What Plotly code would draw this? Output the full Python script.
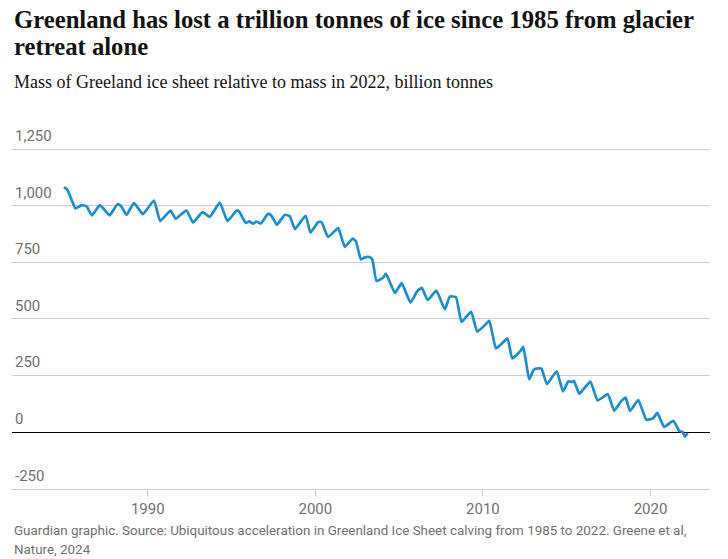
import plotly.graph_objects as go

# Decimal years (peaks and troughs of the seasonal cycle)
years = [
    1985.0, 1985.2, 1985.45, 1985.68, 1985.88, 1986.04, 1986.34, 1986.67,
    1987.13, 1987.33, 1987.73, 1988.19, 1988.40, 1988.73, 1989.18, 1989.71,
    1990.37, 1990.74, 1991.36, 1991.67, 1992.31, 1992.70, 1993.27, 1993.70,
    1994.30, 1994.76, 1995.30, 1995.45, 1995.85, 1996.05, 1996.29, 1996.49,
    1996.75, 1997.18, 1997.38, 1997.71, 1998.18, 1998.48, 1998.78, 1999.42,
    1999.71, 2000.17, 2000.37, 2000.76, 2001.36, 2001.76, 2002.22, 2002.42,
    2002.72, 2002.96, 2003.25, 2003.40, 2003.65, 2004.04, 2004.21, 2004.75,
    2005.15, 2005.68, 2006.08, 2006.35, 2006.70, 2007.22, 2007.73, 2008.02,
    2008.39, 2008.72, 2009.03, 2009.30, 2009.66, 2010.12, 2010.38, 2010.78,
    2011.18, 2011.47, 2011.75, 2012.25, 2012.41, 2012.76, 2013.04, 2013.30,
    2013.50, 2013.82, 2014.40, 2014.78, 2015.09, 2015.35, 2015.43, 2015.75,
    2016.41, 2016.84, 2017.45, 2017.83, 2018.22, 2018.51, 2018.78, 2019.27,
    2019.75, 2020.15, 2020.41, 2020.81, 2021.36, 2021.72, 2021.92, 2022.06, 2022.21,
]

# Mass relative to 2022, billion tonnes
mass = [
    1082, 1071, 1027, 988, 995, 1003, 998, 958,
    1003, 990, 958, 1007, 1000, 960, 1012, 963,
    1023, 933, 979, 943, 980, 926, 972, 951,
    1014, 932, 979, 975, 924, 931, 921, 930,
    922, 965, 956, 916, 960, 954, 897, 956,
    882, 928, 928, 862, 901, 818, 855, 843,
    763, 772, 773, 764, 668, 682, 700, 615,
    658, 572, 623, 638, 583, 625, 543, 599,
    596, 486, 512, 532, 444, 473, 492, 370,
    395, 414, 326, 360, 377, 233, 277, 282,
    280, 212, 269, 180, 224, 222, 227, 170,
    223, 140, 168, 95, 134, 153, 94, 142,
    55, 61, 85, 23, 50, 5, 1, -20, -4,
]

y_tickvals = [-250, 0, 250, 500, 750, 1000, 1250]
y_ticktext = ["-250", "0", "250", "500", "750", "1,000", "1,250"]
x_tickvals = [1990, 2000, 2010, 2020]

TITLE_1 = "Greenland has lost a trillion tonnes of ice since 1985 from glacier"
TITLE_2 = "retreat alone"
SUBTITLE = "Mass of Greeland ice sheet relative to mass in 2022, billion tonnes"
SOURCE_1 = ("Guardian graphic. Source: Ubiquitous acceleration in Greenland Ice Sheet "
            "calving from 1985 to 2022. Greene et al,")
SOURCE_2 = "Nature, 2024"

BLUE = "#1a8fd0"
GREY = "#707070"
GRID = "#cfcfcf"
SANS = "Roboto, 'Open Sans', sans-serif"
SERIF = "'Liberation Serif', 'DejaVu Serif', serif"

H = 559
T, B = 122, 70
PLOT_H = H - T - B


def py(pixel_y):
    """Convert a pixel row (from top) into paper y coordinate."""
    return (H - B - pixel_y) / PLOT_H


fig = go.Figure(
    go.Scatter(
        x=years, y=mass, mode="lines",
        line=dict(color=BLUE, width=2.7, shape="spline", smoothing=0.4),
        hoverinfo="skip",
    )
)


def text_ann(text, top, size, family, color):
    return dict(
        text=text, xref="paper", yref="paper", x=0, y=py(top),
        xanchor="left", yanchor="top", align="left", showarrow=False,
        font=dict(family=family, size=size, color=color),
    )


fig.update_layout(
    width=728, height=H,
    margin=dict(l=12, r=18, t=T, b=B),
    paper_bgcolor="white", plot_bgcolor="white",
    showlegend=False,
    font=dict(family=SANS, color=GREY),
    xaxis=dict(
        range=[1981.9, 2023.55],
        tickvals=x_tickvals,
        ticks="outside", ticklen=6, tickcolor=GRID, tickwidth=1,
        showgrid=False, zeroline=False,
        showline=True, linecolor=GRID, linewidth=1,
        tickfont=dict(family=SANS, size=15, color=GREY),
    ),
    yaxis=dict(
        range=[-251, 1370],
        tickvals=y_tickvals, ticktext=y_ticktext,
        ticklabelposition="inside top", ticklabelshift=-3,
        showgrid=True, gridcolor=GRID, gridwidth=1,
        zeroline=True, zerolinecolor="#000000", zerolinewidth=1,
        showline=False, ticks="",
        tickfont=dict(family=SANS, size=15, color=GREY),
    ),
    annotations=[
        text_ann("<b>" + TITLE_1 + "</b>", 4, 24.7, SERIF, "#121212"),
        text_ann("<b>" + TITLE_2 + "</b>", 31, 24.7, SERIF, "#121212"),
        text_ann(SUBTITLE, 70, 18, SERIF, "#121212"),
        text_ann(SOURCE_1, 521, 13.4, SANS, GREY),
        text_ann(SOURCE_2, 540, 13.4, SANS, GREY),
    ],
)

fig.write_html(
    "out.html",
    config={"displayModeBar": False},
    post_script="document.body.style.margin='0';",
)
